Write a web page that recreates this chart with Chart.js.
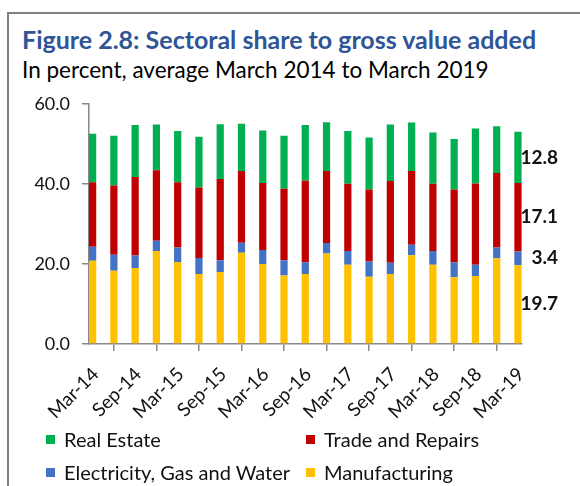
<!DOCTYPE html>
<html>
<head>
<meta charset="utf-8">
<script src="https://cdn.jsdelivr.net/npm/chart.js@4/dist/chart.umd.min.js"></script>
<style>
  html, body { margin: 0; padding: 0; background: #fff; }
  body { width: 580px; height: 486px; overflow: hidden; position: relative; font-family: Lato, "Open Sans", sans-serif; }
  #frame { position: absolute; left: 7px; top: 12px; width: 600px; height: 500px;
    border-top: 2px solid #808080; border-left: 2px solid #808080; }
  #title { position: absolute; left: 22px; top: 24px; font-size: 25px; font-weight: bold; color: #2f5597; white-space: nowrap; }
  #subtitle { position: absolute; left: 22px; top: 56px; font-size: 22.5px; color: #000; white-space: nowrap; }
  #box { position: absolute; left: 0; top: 81px; width: 580px; height: 349px; }
  #legend { position: absolute; left: 46px; top: 428px; display: grid; grid-template-columns: 260px 260px; row-gap: 11px; font-size: 20px; color: #111; }
  #legend div { display: flex; align-items: center; height: 22px; white-space: nowrap; }
  #legend span { display: inline-block; width: 9px; height: 9px; margin-right: 9px; }
</style>
</head>
<body>
<div id="frame"></div>
<div id="title">Figure 2.8: Sectoral share to gross value added</div>
<div id="subtitle">In percent, average March 2014 to March 2019</div>
<div id="box"><canvas id="c"></canvas></div>
<div id="legend"></div>
<script>
const quarters = ["Mar-14","Jun-14","Sep-14","Dec-14","Mar-15","Jun-15","Sep-15","Dec-15",
  "Mar-16","Jun-16","Sep-16","Dec-16","Mar-17","Jun-17","Sep-17","Dec-17",
  "Mar-18","Jun-18","Sep-18","Dec-18","Mar-19"];

const manufacturing = [20.8,18.3,19.0,23.2,20.5,17.5,18.0,22.8,20.0,17.1,17.5,22.6,19.8,16.8,17.5,22.2,19.8,16.7,17.0,21.4,19.7];
const electricity   = [3.5,4.0,3.1,2.6,3.6,4.0,2.9,2.5,3.5,3.8,2.9,2.6,3.4,3.8,2.8,2.6,3.4,3.7,2.8,2.7,3.4];
const trade         = [16.1,17.3,19.6,17.6,16.3,17.6,20.3,17.9,16.7,17.9,20.4,18.0,16.8,18.0,20.4,18.4,16.8,18.2,20.3,18.6,17.1];
const realEstate    = [12.1,12.4,13.0,11.4,12.8,12.7,13.7,11.8,13.1,13.2,13.9,12.2,13.2,13.0,14.1,12.1,12.8,12.6,13.7,11.7,12.8];

const yTicks = [0, 20, 40, 60];

const series = [
  { label: "Manufacturing", data: manufacturing, color: "#ffc000" },
  { label: "Electricity, Gas and Water", data: electricity, color: "#4472c4" },
  { label: "Trade and Repairs", data: trade, color: "#c00000" },
  { label: "Real Estate", data: realEstate, color: "#00b050" },
];

const FONT = "Lato, 'Open Sans', sans-serif";
const axisGray = "#888888";

// value labels next to the last bar
const lastLabels = {
  id: "lastLabels",
  afterDatasetsDraw(chart) {
    const ctx = chart.ctx;
    ctx.save();
    ctx.font = "bold 19px " + FONT;
    ctx.fillStyle = "#111";
    ctx.textAlign = "right";
    ctx.textBaseline = "middle";
    chart.data.datasets.forEach((ds, i) => {
      const meta = chart.getDatasetMeta(i);
      const el = meta.data[meta.data.length - 1];
      const v = ds.data[ds.data.length - 1].y;
      ctx.fillText(v.toFixed(1), chart.chartArea.right + 36, (el.y + el.base) / 2);
    });
    ctx.restore();
  }
};

const chart = new Chart(document.getElementById("c"), {
  type: "bar",
  data: {
    datasets: series.map(s => ({
      label: s.label,
      data: s.data.map((v, i) => ({ x: i, y: v })),
      backgroundColor: s.color,
      borderWidth: 0,
      barPercentage: 0.34,
      categoryPercentage: 1,
    }))
  },
  options: {
    responsive: true,
    maintainAspectRatio: false,
    animation: false,
    layout: { padding: { left: 0, right: 58, top: 5, bottom: 0 } },
    plugins: { legend: { display: false }, tooltip: { enabled: false } },
    scales: {
      x: {
        type: "linear",
        stacked: true,
        min: -0.17,
        max: 20.19,
        offset: false,
        afterFit: s => { s.height = 86; },
        grid: { drawOnChartArea: false, tickLength: 7, color: axisGray, lineWidth: 1.5 },
        border: { color: axisGray, width: 1.5 },
        ticks: {
          stepSize: 2,
          includeBounds: false,
          autoSkip: false,
          maxRotation: 45,
          minRotation: 45,
          padding: 12,
          labelOffset: 3,
          color: "#111",
          font: { family: FONT, size: 19 },
          callback: v => quarters[v]
        }
      },
      y: {
        stacked: true,
        min: yTicks[0],
        max: yTicks[yTicks.length - 1],
        afterFit: s => { s.width = 89; },
        afterBuildTicks: s => { s.ticks = yTicks.map(v => ({ value: v })); },
        grid: { drawOnChartArea: false, tickLength: 7, color: axisGray, lineWidth: 1.5 },
        border: { color: axisGray, width: 1.5 },
        ticks: {
          padding: 12,
          color: "#111",
          font: { family: FONT, size: 18 },
          callback: v => v.toFixed(1)
        }
      }
    }
  },
  plugins: [lastLabels]
});

// legend in a 2x2 grid, top of stack first
const legend = document.getElementById("legend");
const order = [3, 2, 1, 0];
legend.innerHTML = order.map(i => {
  const ds = chart.data.datasets[i];
  return `<div><span style="background:${ds.backgroundColor}"></span>${ds.label}</div>`;
}).join("");
</script>
</body>
</html>
